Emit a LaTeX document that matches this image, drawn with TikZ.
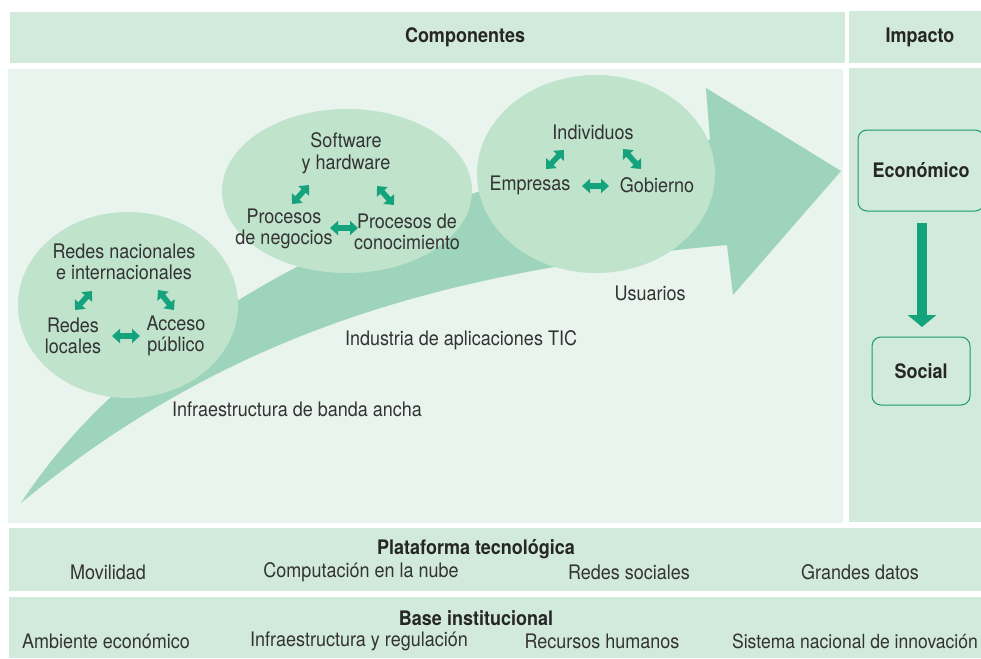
\documentclass[tikz,border=0pt]{standalone}
\usepackage{fontspec}
\setmainfont{TeX Gyre Heros}[FakeStretch=0.9]
\usetikzlibrary{arrows.meta,shapes.geometric}
\definecolor{hdr}{HTML}{D2EADB}
\definecolor{panel}{HTML}{E8F4ED}
\definecolor{ell}{HTML}{C0E3CC}
\definecolor{bigarr}{HTML}{9DD4BB}
\definecolor{tealA}{HTML}{14A37C}
\definecolor{boxline}{HTML}{1A9A6C}
\definecolor{txt}{HTML}{333333}
\begin{document}
\begin{tikzpicture}[x=1pt,y=-1pt,
  lbl/.style={text=txt,font=\fontsize{20}{21.5}\selectfont,align=center,inner sep=0pt},
  ttl/.style={text=black!85,font=\fontsize{20}{21.5}\selectfont\bfseries,align=center,inner sep=0pt},
  dbl/.style={tealA,line width=5.5pt,{Triangle[length=8pt,width=14pt]}-{Triangle[length=8pt,width=14pt]}},
  ellnode/.style={ellipse,fill=ell,inner sep=0pt},
  impbox/.style={draw=boxline,line width=1pt,rounded corners=9pt,fill=hdr,text=black!85,font=\fontsize{20}{21.5}\selectfont\bfseries}]
\useasboundingbox (0,0) rectangle (981,658);
\fill[white] (0,0) rectangle (981,658);
% header
\fill[hdr] (10,12) rectangle (845,63);
\fill[hdr] (849,11) rectangle (981,63);
% panels
\fill[panel] (8,69) rectangle (843,523);
\fill[hdr] (849,68) rectangle (981,522);
\fill[hdr] (9,528) rectangle (981,591);
\fill[hdr] (9,597) rectangle (981,658);
% big arrow
\fill[bigarr] (21,503) .. controls (120,350) and (350,190) .. (710,140) -- (706,88) -- (841,171) -- (733,295) -- (727,245) .. controls (450,270) and (230,330) .. cycle;
% ellipses
\node[ellnode,minimum width=220pt,minimum height=186pt] (e1) at (128,305) {};
\node[ellnode,minimum width=250pt,minimum height=164pt] (e2) at (347,191) {};
\node[ellnode,minimum width=238pt,minimum height=198pt] (e3) at (596,174) {};
% headers
\node[ttl] (comp) at (465,37) {Componentes};
\node[ttl] (imp) at (920,37) {Impacto};
% ellipse 1
\node[lbl] (n11) at (124,262) {Redes nacionales\\e internacionales};
\node[lbl] (n12) at (73,336) {Redes\\locales};
\node[lbl] (n13) at (176,336) {Acceso\\público};
\coordinate (a11) at (75,310); \coordinate (a12) at (92,291);
\coordinate (a13) at (158,290); \coordinate (a14) at (174,310);
\coordinate (a15) at (112,336); \coordinate (a16) at (140,336);
\draw[dbl] (a11) -- (a12);
\draw[dbl] (a13) -- (a14);
\draw[dbl] (a15) -- (a16);
% ellipse 2
\node[lbl] (n21) at (346,153) {Software\\y hardware};
\node[lbl] (n22) at (284,229) {Procesos\\de negocios};
\node[lbl] (n23) at (407,232) {Procesos de\\conocimiento};
\coordinate (a21) at (292,204); \coordinate (a22) at (309,185);
\coordinate (a23) at (377,186); \coordinate (a24) at (394,205);
\coordinate (a25) at (330,228); \coordinate (a26) at (358,228);
\draw[dbl] (a21) -- (a22);
\draw[dbl] (a23) -- (a24);
\draw[dbl] (a25) -- (a26);
% ellipse 3
\node[lbl] (n31) at (593,132) {Individuos};
\node[lbl] (n32) at (530,185) {Empresas};
\node[lbl] (n33) at (657,185) {Gobierno};
\coordinate (a31) at (546,169); \coordinate (a32) at (564,150);
\coordinate (a33) at (623,149); \coordinate (a34) at (641,169);
\coordinate (a35) at (582,186); \coordinate (a36) at (609,186);
\draw[dbl] (a31) -- (a32);
\draw[dbl] (a33) -- (a34);
\draw[dbl] (a35) -- (a36);
% labels
\node[lbl] (usu) at (650,293) {Usuarios};
\node[lbl] (ind) at (461,340) {Industria de aplicaciones TIC};
\node[lbl] (inf) at (297,409) {Infraestructura de banda ancha};
% impact
\node[impbox,minimum width=126pt,minimum height=81pt] (eco) at (921,170.5) {Económico};
\node[impbox,minimum width=98pt,minimum height=68pt] (soc) at (921,371) {Social};
\coordinate (da1) at (922,223); \coordinate (da2) at (922,327);
\draw[tealA,line width=10pt,-{Triangle[length=12pt,width=28pt]}] (da1) -- (da2);
% bottom bars
\node[ttl] (plat) at (476,549) {Plataforma tecnológica};
\node[lbl] (b11) at (108,572) {Movilidad};
\node[lbl] (b12) at (361,572) {Computación en la nube};
\node[lbl] (b13) at (629,572) {Redes sociales};
\node[lbl] (b14) at (860,572) {Grandes datos};
\node[ttl] (base) at (476,618) {Base institucional};
\node[lbl] (b21) at (106,641) {Ambiente económico};
\node[lbl] (b22) at (359,641) {Infraestructura y regulación};
\node[lbl] (b23) at (602,641) {Recursos humanos};
\node[lbl,font=\fontsize{19.5}{21.5}\selectfont] (b24) at (855,641) {Sistema nacional de innovación};
\end{tikzpicture}
\end{document}
